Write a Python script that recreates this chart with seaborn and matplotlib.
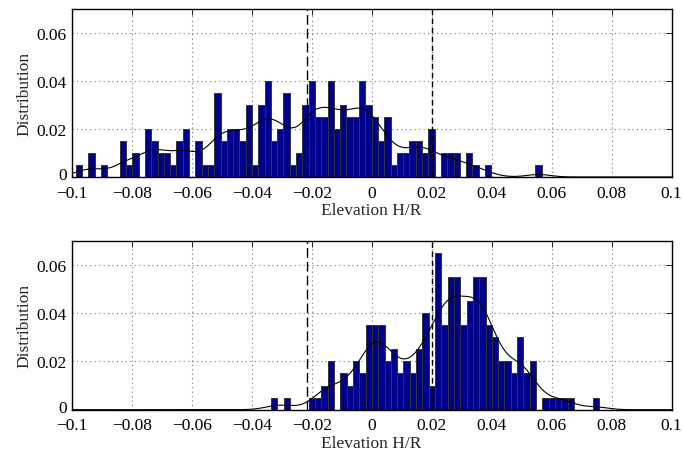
import numpy as np
import pandas as pd
import matplotlib
matplotlib.use("Agg")
import matplotlib.pyplot as plt
import matplotlib.transforms as mtransforms
import seaborn as sns

# ---------------- data ----------------
# Top panel: 74 bins starting at top_start, width top_width
top_start = -0.09868
top_width = 0.0021
top_heights = [0.005, 0, 0.01, 0, 0.005, 0, 0, 0.015, 0.005, 0.01,
               0, 0.02, 0.015, 0.01, 0.01, 0.005, 0.015, 0.02, 0, 0.015,
               0.005, 0.005, 0.035, 0.015, 0.02, 0.02, 0.015, 0.03, 0.005, 0.03,
               0.04, 0.015, 0.02, 0.035, 0.005, 0.01, 0.03, 0.04, 0.025, 0.025,
               0.04, 0.02, 0.03, 0.025, 0.025, 0.04, 0.03, 0.025, 0.015, 0.025,
               0.005, 0.01, 0.01, 0.015, 0.015, 0.01, 0.02, 0, 0.01, 0.01,
               0.01, 0, 0.01, 0.005, 0, 0.005, 0, 0, 0, 0,
               0, 0, 0, 0.005]

# Bottom panel: 52 bins starting at bot_start, width bot_width
bot_start = -0.03357
bot_width = 0.0021045
bot_heights = [0.005, 0, 0.005, 0, 0, 0, 0.005, 0.005, 0.01, 0.02,
               0, 0.015, 0.01, 0.02, 0.015, 0.035, 0.035, 0.035, 0.02, 0.025,
               0.015, 0.02, 0.015, 0.025, 0.04, 0.01, 0.065, 0.035, 0.055, 0.055,
               0.035, 0.045, 0.055, 0.055, 0.035, 0.03, 0.02, 0.02, 0.015, 0.03,
               0.015, 0.02, 0, 0.005, 0.005, 0.005, 0.005, 0.005, 0, 0,
               0, 0.005]

x_ticks = [-0.1, -0.08, -0.06, -0.04, -0.02, 0, 0.02, 0.04, 0.06, 0.08, 0.1]
x_tick_labels = ["\u22120.1", "\u22120.08", "\u22120.06", "\u22120.04", "\u22120.02",
                 "0", "0.02", "0.04", "0.06", "0.08", "0.1"]
y_ticks = [0, 0.02, 0.04, 0.06]
y_tick_labels = ["0", "0.02", "0.04", "0.06"]
threshold_lo = -0.0215
threshold_hi = 0.0202
kde_bw = 0.004
x_label = "Elevation H/R"
y_label = "Distribution"

# ---------------- style ----------------
sns.set_theme(style="white")
plt.rcParams["font.family"] = ["Liberation Serif", "DejaVu Serif"]
plt.rcParams["font.size"] = 12.5

BAR_COLOR = "#00008F"
FS = 12.5

fig = plt.figure(figsize=(6.84, 4.52), dpi=100)
ax_top = fig.add_axes([0.1048, 0.6062, 0.877, 0.3706])
ax_bot = fig.add_axes([0.1048, 0.0914, 0.877, 0.3741])


def draw_panel(ax, start, width, heights):
    heights = np.asarray(heights, dtype=float)
    n = len(heights)
    edges = start + width * np.arange(n + 1)
    centers = 0.5 * (edges[:-1] + edges[1:])
    df = pd.DataFrame({"x": centers, "w": heights})
    sns.histplot(data=df, x="x", weights="w", bins=[float(e) for e in edges],
                 stat="count", color=BAR_COLOR, edgecolor="0.2",
                 linewidth=0.7, alpha=1.0, ax=ax)
    # smoothed density curve (gaussian kernel of the histogram)
    xs = np.linspace(-0.1, 0.1, 801)
    dens = (heights[None, :] *
            np.exp(-0.5 * ((xs[:, None] - centers[None, :]) / kde_bw) ** 2)
            / (np.sqrt(2 * np.pi) * kde_bw)).sum(axis=1) * width
    sns.lineplot(x=xs, y=dens, color="black", linewidth=0.8, ax=ax)

    ax.axvline(threshold_lo, color="black", linewidth=1.0,
               linestyle=(0, (7, 3)), zorder=5)
    ax.axvline(threshold_hi, color="black", linewidth=1.0,
               linestyle=(0, (4, 2.5)), zorder=5)

    ax.set_xlim(-0.1, 0.1)
    ax.set_ylim(0, 0.07)
    ax.set_xticks(x_ticks)
    ax.set_xticklabels(x_tick_labels)
    ax.set_yticks(y_ticks)
    ax.set_yticklabels(y_tick_labels)
    ax.set_xlabel(x_label, fontsize=FS, labelpad=1)
    ax.set_ylabel(y_label, fontsize=FS, labelpad=3)
    ax.tick_params(direction="in", length=4, width=0.6, top=True, right=True,
                   labelsize=FS, colors="black")
    ax.tick_params(axis="x", pad=5.5)
    ax.tick_params(axis="y", pad=3.5)
    # nudge the "0" y tick label up a little so it clears the x labels
    zero_lbl = ax.get_yticklabels()[0]
    zero_lbl.set_transform(zero_lbl.get_transform() +
                           mtransforms.ScaledTranslation(0, 3 / 72,
                                                         fig.dpi_scale_trans))
    ax.set_axisbelow(True)
    ax.grid(True, linestyle=(0, (1, 3)), color="0.45", linewidth=0.8)
    for sp in ax.spines.values():
        sp.set_visible(True)
        sp.set_color("black")
        sp.set_linewidth(1.0)


draw_panel(ax_top, top_start, top_width, top_heights)
draw_panel(ax_bot, bot_start, bot_width, bot_heights)

fig.savefig("out.png", dpi=100)
